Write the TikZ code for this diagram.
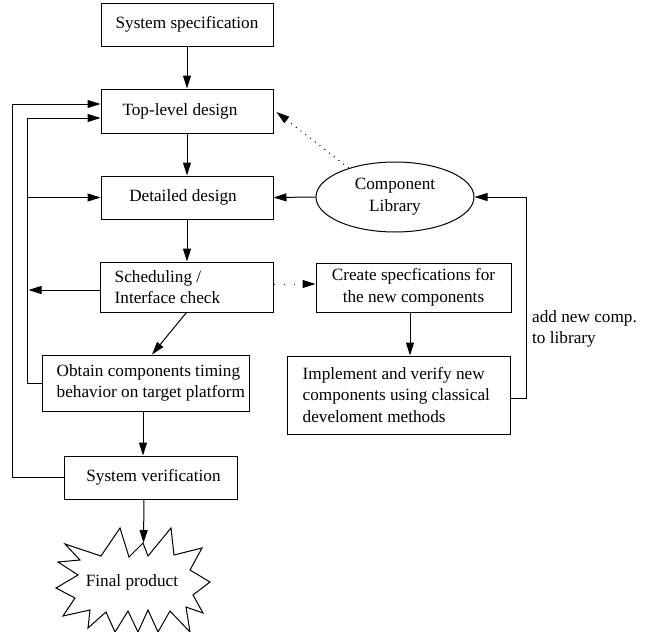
\documentclass[tikz,border=0pt]{standalone}
\usepackage{fontspec}
\setmainfont{Liberation Serif}
\usetikzlibrary{arrows.meta,shapes.geometric}
\begin{document}
\begin{tikzpicture}[x=1pt,y=-1pt,
  every node/.style={font=\fontsize{17.2}{21.7}\selectfont},
  box/.style={draw, line width=1pt, rectangle, inner sep=0pt},
  txt/.style={inner sep=0pt, align=left},
  arr/.style={-{Triangle[length=13pt,width=8pt]}, line width=1pt},
  dotA/.style={dash pattern=on 1pt off 5pt},
  dotB/.style={dash pattern=on 1pt off 9pt},
  line/.style={line width=1pt}]
\useasboundingbox (0,0) rectangle (654,632);

% boxes
\node[box, minimum width=172pt, minimum height=43pt] (spec) at (187,24.5) {System specification};
\node[box, minimum width=172pt, minimum height=44pt, label={[xshift=-7pt]center:Top-level design}] (top) at (187,111) {};
\node[box, minimum width=172pt, minimum height=43pt, label={[xshift=-4pt]center:Detailed design}] (det) at (187,197.5) {};
\node[box, minimum width=173pt, minimum height=50pt] (sched) at (186.5,287) {};
\node[txt, anchor=west] (schedtxt) at ([xshift=15pt]sched.west) {Scheduling /\\Interface check};
\node[box, minimum width=207pt, minimum height=56pt] (obtain) at (145.5,383) {};
\node[txt, anchor=west] (obtaintxt) at ([xshift=15pt]obtain.west) {Obtain components timing\\behavior on target platform};
\node[box, minimum width=173pt, minimum height=43pt, label={[xshift=3pt]center:System verification}] (sysver) at (150.5,477.5) {};
\node[box, minimum width=195pt, minimum height=49pt, align=center] (create) at (413.5,287.5) {Create specfications for\\the new components};
\node[box, minimum width=223pt, minimum height=78pt] (impl) at (398.5,395) {};
\node[txt, anchor=west] (impltxt) at ([xshift=16pt]impl.west) {Implement and verify new\\components using classical\\develoment methods};
\node[draw, line width=1pt, ellipse, inner sep=0pt, minimum width=158pt, minimum height=70pt, align=center] (lib) at (395,197) {Component\\Library};

% starburst
\draw[line width=1pt, fill=white] (65,544) -- (101,556) -- (120,528) -- (129,557) -- (143,543) -- (148,556) -- (171,528) -- (174,555) -- (202,548) -- (190,570) -- (210,582) -- (193,595) -- (203,613) -- (186,607) -- (190,632) -- (170,611) -- (158,632) -- (148,610) -- (138,632) -- (128,611) -- (115,632) -- (106,612) -- (88,628) -- (90,610) -- (63,616) -- (75,598) -- (56,588) -- (78,575) -- (58,562) -- (80,560) -- cycle;
\coordinate (finaltop) at (143.5,543);
\node[inner sep=0pt] (final) at (132,582) {Final product};

% label
\node[txt, anchor=west] (addlbl) at (532,329) {add new comp.\\to library};

% connectors
\draw[arr] (spec.south) -- (top.north);
\draw[arr] (top.south) -- (det.north);
\draw[arr] (det.south) -- ([xshift=0.5pt]sched.north);
\draw[arr] (sched.south) -- ([xshift=6.5pt]obtain.north);
\draw[arr] ([xshift=-2.5pt]obtain.south) -- ([xshift=-2.5pt]obtain.south |- sysver.north);
\draw[arr] ([xshift=-6.5pt]sysver.south) -- (finaltop);
\draw[arr] (sysver.west) -- ++(-51,0) |- ([yshift=7pt]top.west);
\draw[arr] (obtain.west) -- ++(-14,0) |- ([yshift=-7pt]top.west);
\draw[arr] ([xshift=-73pt]det.west) -- (det.west);
\draw[arr] ([yshift=-3pt]sched.west) -- ++(-71,0);
\draw[arr] (lib.west) -- (det.east);
\draw[arr, dotA] (lib.148) -- ([xshift=3pt,yshift=-1pt]top.east);
\draw[arr, dotB] ([yshift=3pt]sched.east) -- ([yshift=3pt]sched.east -| create.west);
\draw[arr] ([xshift=-3.5pt]create.south) -- ([xshift=-3.5pt]create.south |- impl.north);
\draw[arr] ([yshift=-3pt]impl.east) -- ++(16,0) |- (lib.east);
\end{tikzpicture}
\end{document}
